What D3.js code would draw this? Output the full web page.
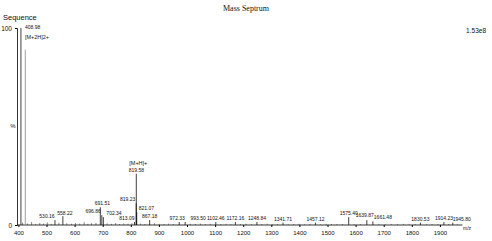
<!DOCTYPE html>
<meta charset="utf-8" />
<script src="https://d3js.org/d3.v7.min.js"></script>
<style>
	body { margin: 0; background: #fff; }
	text { font-family: "Liberation Sans", Arial, sans-serif; fill: #111; }
</style>
<div id="chart"></div>
<script>
	// labelled peaks: m/z and relative intensity (%)
	var peakMz = [408.98, 424.5, 530.16, 558.22, 691.51, 696.86, 702.34, 813.09, 819.23, 819.58, 821.07, 867.18,
		972.33, 993.50, 1102.46, 1172.16, 1248.84, 1341.71, 1457.12, 1575.40, 1639.87, 1661.48, 1830.53, 1914.23, 1945.80];
	var peakInt = [100, 89, 2.5, 4.5, 9, 5, 4, 1.5, 11, 26, 6.5, 2.5,
		1.5, 1.5, 1.5, 1.5, 1.5, 1.2, 1.2, 4, 2.5, 1.8, 1.2, 1.5, 1.2];
	var peakLabel = ["408.98", "", "530.16", "558.22", "691.51", "696.86", "702.34", "813.09", "819.23", "819.58", "821.07", "867.18",
		"972.33", "993.50", "1102.46", "1172.16", "1248.84", "1341.71", "1457.12", "1575.40", "1639.87", "1661.48", "1830.53", "1914.23", "1945.80"];

	// baseline noise peaks (m/z, %)
	var noiseMz = [415, 432, 447, 461, 476, 489, 503, 517, 544, 572, 589, 603, 618, 634, 647, 660, 676, 716, 731, 746, 760, 775, 790, 804,
		835, 850, 884, 901, 918, 934, 951, 1012, 1030, 1048, 1066, 1083, 1120, 1139, 1156, 1190, 1210, 1229, 1266, 1285, 1303, 1322,
		1360, 1380, 1399, 1418, 1437, 1476, 1495, 1514, 1533, 1553, 1595, 1617, 1683, 1705, 1727, 1749, 1770, 1791, 1812, 1852, 1872, 1893, 1931, 1962];
	var noiseInt = [1.2, 0.8, 1.5, 0.6, 1, 0.7, 1.3, 0.6, 1.1, 0.9, 0.6, 1, 0.7, 1.4, 0.6, 0.9, 1.1, 0.8, 0.6, 1, 0.5, 0.8, 0.6, 0.9,
		0.7, 0.5, 0.8, 0.6, 0.5, 0.7, 0.5, 0.6, 0.5, 0.7, 0.4, 0.6, 0.5, 0.6, 0.4, 0.5, 0.6, 0.4, 0.5, 0.6, 0.4, 0.5,
		0.4, 0.5, 0.6, 0.4, 0.5, 0.4, 0.6, 0.5, 0.4, 0.5, 0.4, 0.5, 0.6, 0.4, 0.5, 0.4, 0.6, 0.4, 0.5, 0.4, 0.5, 0.4, 0.5, 0.4];

	var xTicks = [400, 500, 600, 700, 800, 900, 1000, 1100, 1200, 1300, 1400, 1500, 1600, 1700, 1800, 1900];
	var yTicks = [0, 100];

	// label nudges where the original moves text off its peak
	var nudge = {
		"408.98": { dx: 4, dy: 3, anchor: "start" },
		"530.16": { dx: -8, dy: 0, anchor: "middle" },
		"558.22": { dx: 2, dy: 1, anchor: "middle" },
		"691.51": { dx: 2, dy: 0, anchor: "middle" },
		"696.86": { dx: -1, dy: 0, anchor: "end" },
		"702.34": { dx: 3, dy: 0, anchor: "start" },
		"813.09": { dx: 0, dy: 0, anchor: "end" },
		"819.23": { dx: -1, dy: 0, anchor: "end" },
		"821.07": { dx: 2, dy: 0, anchor: "start" },
		"972.33": { dx: -2, dy: 0, anchor: "middle" },
		"993.50": { dx: 13, dy: 0, anchor: "middle" },
		"1102.46": { dx: 0, dy: 0, anchor: "middle" },
		"1639.87": { dx: -2, dy: -1, anchor: "middle" },
		"1661.48": { dx: 10, dy: 0, anchor: "middle" },
		"1945.80": { dx: 9, dy: 0, anchor: "middle" }
	};

	var W = 492, H = 241;
	var svg = d3.select("#chart").append("svg").attr("width", W).attr("height", H);

	var x = d3.scaleLinear().domain([395, 1980]).range([17, 462.4]);
	var y = d3.scaleLinear().domain([0, 100]).range([225, 28]);

	// title and header texts
	svg.append("text").attr("x", 246).attr("y", 11).attr("text-anchor", "middle")
		.style("font-family", "'Liberation Serif', serif").style("font-size", "8px").text("Mass Septrum");
	svg.append("text").attr("x", 3).attr("y", 20).style("font-size", "7.5px").text("Sequence");
	svg.append("text").attr("x", 486).attr("y", 33).attr("text-anchor", "end").style("font-size", "6.5px").text("1.53e8");

	// x axis
	var xAxis = svg.append("g").attr("transform", "translate(0," + y(0) + ")")
		.call(d3.axisBottom(x).tickValues(xTicks).tickSize(2).tickFormat(d3.format("d")));
	xAxis.select(".domain").attr("d", "M" + x(395) + ",0H" + x(1980)).attr("stroke-width", 0.8);
	xAxis.selectAll("text").style("font-size", "6px").attr("dy", "0.85em");
	svg.append("text").attr("x", 467).attr("y", 230).attr("text-anchor", "middle").style("font-size", "5px").text("m/z");

	// y axis
	var yAxis = svg.append("g").attr("transform", "translate(" + x(395) + ",0)")
		.call(d3.axisLeft(y).tickValues(yTicks).tickSize(2));
	yAxis.selectAll("text").style("font-size", "6.5px");
	yAxis.select(".domain").attr("stroke-width", 0.8);
	svg.append("text").attr("x", 13).attr("y", 128).attr("text-anchor", "middle").style("font-size", "6px").text("%");

	// noise sticks
	svg.append("g").selectAll("line").data(d3.range(noiseMz.length)).join("line")
		.attr("x1", i => x(noiseMz[i])).attr("x2", i => x(noiseMz[i]))
		.attr("y1", y(0)).attr("y2", i => y(noiseInt[i]))
		.attr("stroke", "#333").attr("stroke-width", 0.6);

	// peaks
	var peaks = d3.range(peakMz.length);
	svg.append("g").selectAll("line").data(peaks).join("line")
		.attr("x1", i => x(peakMz[i])).attr("x2", i => x(peakMz[i]))
		.attr("y1", y(0)).attr("y2", i => y(peakInt[i]))
		.attr("stroke", i => i === 1 ? "#888" : "#111").attr("stroke-width", 0.8);

	svg.append("g").selectAll("text").data(peaks.filter(i => peakLabel[i])).join("text")
		.attr("x", i => x(peakMz[i]) + (nudge[peakLabel[i]] ? nudge[peakLabel[i]].dx : 0))
		.attr("y", i => y(peakInt[i]) - 2 + (nudge[peakLabel[i]] ? nudge[peakLabel[i]].dy : 0))
		.attr("text-anchor", i => nudge[peakLabel[i]] ? nudge[peakLabel[i]].anchor : "middle")
		.style("font-size", "5px")
		.text(i => peakLabel[i]);

	// ion annotations
	svg.append("text").attr("x", x(408.98) + 4).attr("y", y(100) + 11).style("font-size", "5.5px").text("[M+2H]2+");
	svg.append("text").attr("x", x(819.58) - 7).attr("y", y(26) - 9).style("font-size", "5.5px").text("[M+H]+");
</script>
